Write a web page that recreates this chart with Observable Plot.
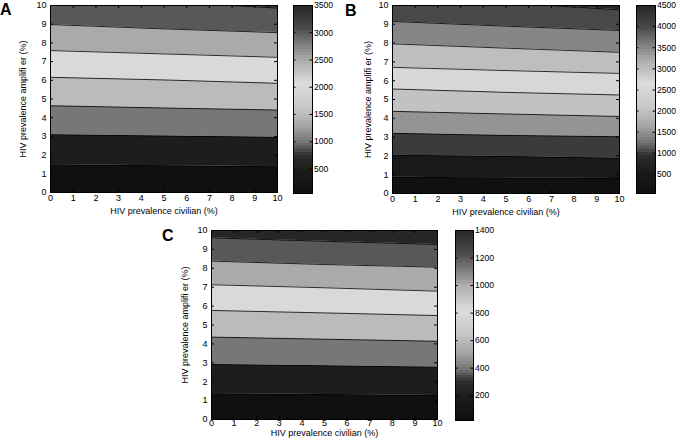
<!DOCTYPE html>
<html><head><meta charset="utf-8">
<script src="https://cdn.jsdelivr.net/npm/d3@7"></script>
<script src="https://cdn.jsdelivr.net/npm/@observablehq/plot@0.6"></script>
<style>
body{margin:0;background:#fff;}
#fig{position:relative;width:676px;height:440px;overflow:hidden;}
#fig svg{position:absolute;overflow:visible;}
.lab{position:absolute;font:bold 16px "Liberation Sans",Arial,sans-serif;line-height:1;color:#000;}
</style></head><body><div id="fig"></div>
<script>
// ---- data ----
const xTicks = [0,1,2,3,4,5,6,7,8,9,10];
const yTicks = [0,1,2,3,4,5,6,7,8,9,10];
const xSamples = [0, 5, 10];   // civilian prevalence where contour heights are read

// Panel A
const levelsA = [500,1000,1500,2000,2500,3000,3500];
const linesA = [[1.48,1.43,1.375],[3.09,3.02,2.95],[4.64,4.52,4.41],[6.16,6.02,5.84],[7.59,7.41,7.23],[8.98,8.75,8.55],[10.5,10.21,9.86]];
const rangeA = [50,3500];
const cbTicksA = [500,1000,1500,2000,2500,3000,3500];

// Panel B
const levelsB = [500,1000,1500,2000,2500,3000,3500,4000,4500];
const linesB = [[0.86,0.83,0.80],[2.04,1.97,1.88],[3.2,3.09,3.02],[4.37,4.23,4.1],[5.56,5.38,5.24],[6.71,6.54,6.39],[7.96,7.73,7.51],[9.15,8.9,8.67],[10.45,10.15,9.77]];
const rangeB = [50,4500];
const cbTicksB = [500,1000,1500,2000,2500,3000,3500,4000,4500];

// Panel C
const levelsC = [200,400,600,800,1000,1200,1400];
const linesC = [[1.36,1.32,1.27],[2.91,2.84,2.77],[4.36,4.25,4.14],[5.77,5.64,5.5],[7.13,6.97,6.79],[8.38,8.2,8.06],[9.61,9.43,9.26]];
const rangeC = [20,1400];
const cbTicksC = [200,400,600,800,1000,1200,1400];

const xLabel = "HIV prevalence civilian (%)";
const yLabel = "HIV prevalence amplifi er (%)";

// colormap (normalised position -> gray)
const cmapStops = [0,0.12,0.2,0.27,0.35,0.45,0.58,0.7,0.8,0.88,1];
const cmapGrays = ["#101010","#1b1b1b","#2e2e2e","#747474","#a2a2a2","#c6c6c6","#dcdcdc","#b0b0b0","#787878","#4a4a4a","#262626"];

const FONT = "'Liberation Sans', Arial, sans-serif";
const fig = document.getElementById("fig");

function colorScale(range) {
  return {type: "linear", domain: cmapStops.map(t => range[0] + t * (range[1] - range[0])), range: cmapGrays};
}

function place(svg, left, top) {
  svg.style.left = left + "px";
  svg.style.top = top + "px";
  fig.appendChild(svg);
}

function panel(p) {
  const bottom = xSamples.map(() => 0);
  const topB = xSamples.map(() => 10.6);
  const bounds = [bottom, ...p.lines, topB];
  const fills = [p.range[0], ...p.levels];
  const bands = [];
  for (let k = 0; k < bounds.length - 1; k++)
    xSamples.forEach((x, i) => bands.push({band: k, x, y1: bounds[k][i], y2: bounds[k + 1][i], v: fills[k]}));
  const lineData = [];
  p.lines.forEach((ln, k) => xSamples.forEach((x, i) => lineData.push({line: k, x, y: ln[i]})));

  const W = p.width, H = p.height;
  const fw = W - p.mL - p.mR, fh = H - p.mT - p.mB;
  const tx = 3 / fw * 10, ty = 3 / fh * 10;

  const chart = Plot.plot({
    width: W, height: H,
    marginLeft: p.mL, marginRight: p.mR, marginTop: p.mT, marginBottom: p.mB,
    x: {domain: [0, 10]},
    y: {domain: [0, 10]},
    color: colorScale(p.range),
    style: {fontFamily: FONT, fontSize: "9px", color: "#000", background: "transparent", overflow: "visible"},
    marks: [
      Plot.areaY(bands, {x: "x", y1: "y1", y2: "y2", z: "band", fill: "v", clip: true}),
      Plot.line(lineData, {x: "x", y: "y", z: "line", stroke: "#000", strokeWidth: 0.8, clip: true}),
      Plot.ruleX(xTicks, {x: d => d, y1: 0, y2: ty, stroke: "#000"}),
      Plot.ruleX(xTicks, {x: d => d, y1: 10, y2: 10 - ty, stroke: "#000"}),
      Plot.ruleY(yTicks, {y: d => d, x1: 0, x2: tx, stroke: "#000"}),
      Plot.ruleY(yTicks, {y: d => d, x1: 10, x2: 10 - tx, stroke: "#000"}),
      Plot.frame({stroke: "#000"}),
      Plot.axisX(xTicks, {anchor: "bottom", tickSize: 0, tickPadding: p.xPad, tickFormat: d => String(d), label: xLabel, labelAnchor: "center", labelArrow: "none", labelOffset: p.xLabOff}),
      Plot.axisY(yTicks, {anchor: "left", tickSize: 0, tickPadding: 4, tickFormat: d => String(d), label: yLabel, labelAnchor: "center", labelArrow: "none", labelOffset: p.yLabOff})
    ]
  });
  place(chart, p.left, p.top);

  // colorbar
  const cb = p.cb;
  const nSteps = 64;
  const step = (p.range[1] - p.range[0]) / nSteps;
  const steps = d3.range(nSteps).map(i => p.range[0] + i * step);
  const cbw = cb.width + 32;
  const ktx = 2.5 / cb.width;
  const cbar = Plot.plot({
    width: cbw, height: cb.height + 10,
    marginLeft: 0, marginRight: 32, marginTop: 5, marginBottom: 5,
    x: {domain: [0, 1], axis: null},
    y: {domain: p.range, axis: null},
    color: colorScale(p.range),
    style: {fontFamily: FONT, fontSize: "8.6px", color: "#000", background: "transparent", overflow: "visible"},
    marks: [
      Plot.rect(steps, {x1: 0, x2: 1, y1: d => d, y2: d => Math.min(d + step * 1.02, p.range[1]), fill: d => d + step / 2, shapeRendering: "crispEdges"}),
      Plot.ruleY(p.cbTicks, {y: d => d, x1: 0, x2: ktx, stroke: "#000"}),
      Plot.ruleY(p.cbTicks, {y: d => d, x1: 1, x2: 1 - ktx, stroke: "#000"}),
      Plot.frame({stroke: "#000"}),
      Plot.axisY(p.cbTicks, {anchor: "right", tickSize: 0, tickPadding: 1.5, tickFormat: d => String(d), label: null})
    ]
  });
  place(cbar, cb.left, cb.top - 5);

  const lab = document.createElement("div");
  lab.className = "lab";
  lab.textContent = p.letter;
  lab.style.left = p.letterPos[0] + "px";
  lab.style.top = p.letterPos[1] + "px";
  fig.appendChild(lab);
}

panel({letter: "A", letterPos: [0, 2], left: 0, top: 0, width: 285, height: 220, mL: 50, mR: 8, mT: 5, mB: 28,
  levels: levelsA, lines: linesA, range: rangeA, cbTicks: cbTicksA, xPad: 2, xLabOff: 21, yLabOff: 31,
  cb: {left: 293, top: 5, width: 19, height: 188}});
panel({letter: "B", letterPos: [345, 3], left: 336, top: 0, width: 290, height: 220, mL: 56, mR: 7, mT: 5, mB: 27,
  levels: levelsB, lines: linesB, range: rangeB, cbTicks: cbTicksB, xPad: 2, xLabOff: 21, yLabOff: 28,
  cb: {left: 636, top: 5, width: 19, height: 188}});
panel({letter: "C", letterPos: [162, 228], left: 150, top: 222, width: 295, height: 218, mL: 61, mR: 8, mT: 8, mB: 21,
  levels: levelsC, lines: linesC, range: rangeC, cbTicks: cbTicksC, xPad: 0, xLabOff: 16, yLabOff: 30,
  cb: {left: 455, top: 230, width: 18, height: 190}});
</script>
</body></html>
